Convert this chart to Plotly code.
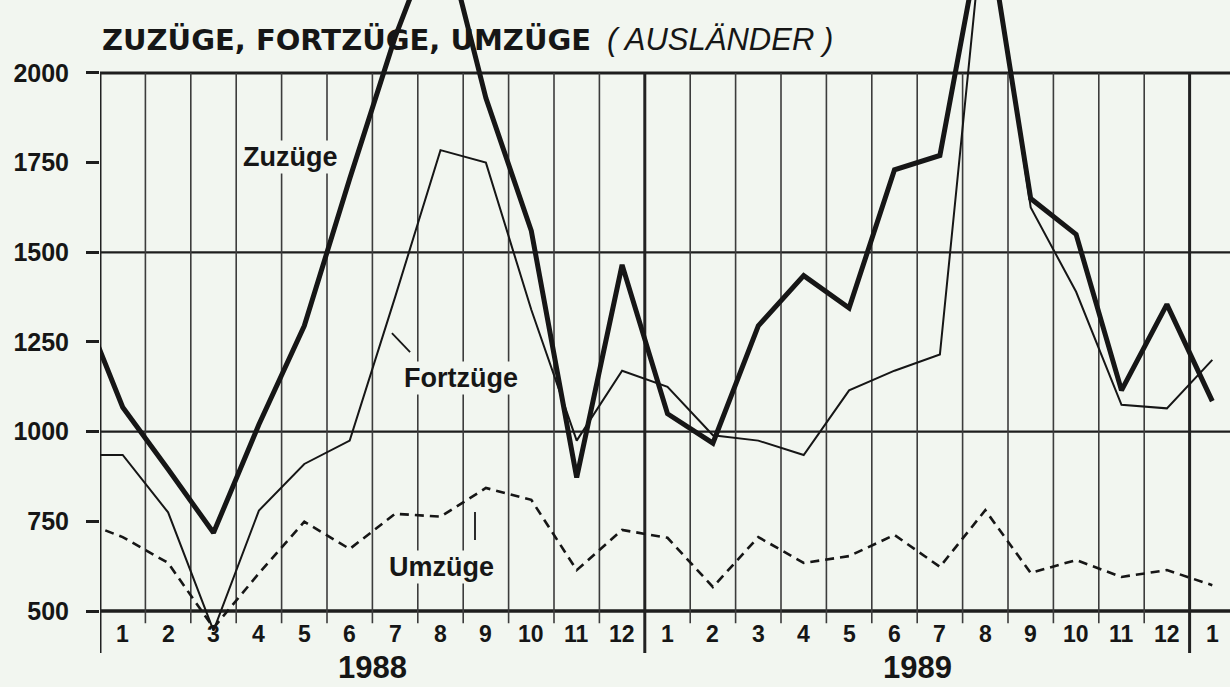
import plotly.graph_objects as go

# ---- data (monthly values, Dec 1987 .. Jan 1990) ----
month_labels = ["12", "1", "2", "3", "4", "5", "6", "7", "8", "9", "10", "11", "12",
                "1", "2", "3", "4", "5", "6", "7", "8", "9", "10", "11", "12", "1"]
years = ["1988", "1989"]

zuzuege = [1385, 1068, 895, 718, 1020, 1295, 1705, 2100, 2430, 1930, 1560, 872, 1465,
           1050, 968, 1295, 1435, 1345, 1730, 1770, 2450, 1650, 1550, 1115, 1355, 1085]
fortzuege = [935, 935, 775, 445, 780, 910, 975, 1375, 1785, 1750, 1340, 975, 1170,
             1125, 990, 975, 935, 1115, 1170, 1215, 2480, 1625, 1390, 1075, 1065, 1200]
umzuege = [755, 706, 634, 453, 605, 749, 673, 771, 763, 843, 810, 614, 726,
           704, 567, 706, 634, 653, 712, 623, 781, 606, 642, 595, 614, 572]

# month index: Dec 1987 = 0, Jan 1988 = 1, ... Jan 1990 = 25
t = list(range(len(month_labels)))

BG = "#f2f6f0"
FONT = "Liberation Sans, Arial, Helvetica, sans-serif"
INK = "#161616"

fig = go.Figure()
fig.add_trace(go.Scatter(x=t, y=umzuege, mode="lines", name="Umzüge",
                         line=dict(color=INK, width=2.6, dash="9px,6px")))
fig.add_trace(go.Scatter(x=t, y=fortzuege, mode="lines", name="Fortzüge",
                         line=dict(color=INK, width=2.0)))
fig.add_trace(go.Scatter(x=t, y=zuzuege, mode="lines", name="Zuzüge",
                         line=dict(color=INK, width=5.0)))

shapes = []
# horizontal grid lines
for yv, w in [(500, 3.5), (1000, 2.4), (1500, 2.4), (2000, 3.0)]:
    shapes.append(dict(type="line", xref="paper", x0=0, x1=1, yref="y", y0=yv, y1=yv,
                       line=dict(color="#1e1e1e", width=w), layer="below"))
# vertical month boundaries
n_bounds = 25
for i in range(n_bounds):
    b = 0.5 + i
    year_b = (i % 12 == 0)
    shapes.append(dict(type="line", xref="x", yref="y", x0=b, x1=b,
                       y0=383 if year_b else 466, y1=2000,
                       line=dict(color="#222" if year_b else "#3c3c3c",
                                 width=3 if year_b else 1.6), layer="below"))
# leader lines for labels
shapes.append(dict(type="line", xref="x", yref="y", x0=6.93, y0=1275, x1=7.33, y1=1222,
                   line=dict(color=INK, width=1.8)))
shapes.append(dict(type="line", xref="x", yref="y", x0=8.76, y0=776, x1=8.76, y1=698,
                   line=dict(color=INK, width=1.8)))

ann = []
for i, lab in enumerate(month_labels):
    if i == 0:
        continue
    ann.append(dict(x=t[i], y=436, xref="x", yref="y", text=lab, showarrow=False,
                    font=dict(family=FONT, size=23, color=INK, weight="bold"),
                    xanchor="center", yanchor="middle"))
for k, yr in enumerate(years):
    ann.append(dict(x=6.5 + 12 * k, y=343, xref="x", yref="y", text=yr, showarrow=False,
                    font=dict(family=FONT, size=31, color=INK, weight="bold"),
                    xanchor="center", yanchor="middle"))

ann.append(dict(x=4.7, y=1766, xref="x", yref="y", text="Zuzüge", showarrow=False,
                font=dict(family=FONT, size=27, color=INK, weight="bold"),
                bgcolor=BG, borderpad=1))
ann.append(dict(x=8.45, y=1150, xref="x", yref="y", text="Fortzüge", showarrow=False,
                font=dict(family=FONT, size=27, color=INK, weight="bold"),
                bgcolor=BG, borderpad=1))
ann.append(dict(x=8.03, y=623, xref="x", yref="y", text="Umzüge", showarrow=False,
                font=dict(family=FONT, size=27, color=INK, weight="bold"),
                bgcolor=BG, borderpad=1))

# title
ann.append(dict(x=0, y=2092, xref="paper", yref="y", text="ZUZÜGE, FORTZÜGE, UMZÜGE",
                showarrow=False, xanchor="left", yanchor="middle",
                font=dict(family="DejaVu Sans, " + FONT, size=29, color=INK, weight="bold")))
ann.append(dict(x=(605 - 100) / 1130, y=2092, xref="paper", yref="y", text="( AUSLÄNDER )",
                showarrow=False, xanchor="left", yanchor="middle",
                font=dict(family=FONT, size=31, color=INK, style="italic")))

fig.update_layout(
    width=1230, height=687,
    margin=dict(l=100, r=0, t=0, b=0),
    paper_bgcolor=BG, plot_bgcolor=BG,
    showlegend=False,
    shapes=shapes, annotations=ann,
    xaxis=dict(range=[0.5, 0.5 + 1130 / 45.4], showgrid=False, zeroline=False,
               showticklabels=False, ticks="", showline=False, fixedrange=True),
    yaxis=dict(range=[288.1, 2203.5], tickvals=[500, 750, 1000, 1250, 1500, 1750, 2000],
               ticktext=["500", "750", "1000", "1250", "1500", "1750", "2000"],
               ticks="outside", ticklen=13, tickwidth=2.5, tickcolor="#1e1e1e",
               ticklabelstandoff=12,
               tickfont=dict(family=FONT, size=25, color=INK, weight="bold"),
               showgrid=False, zeroline=False, showline=False, fixedrange=True),
)

fig.write_html("out.html", config={"displayModeBar": False},
               post_script="document.body.style.margin='0px';"
                           "document.body.style.background='" + BG + "';")
